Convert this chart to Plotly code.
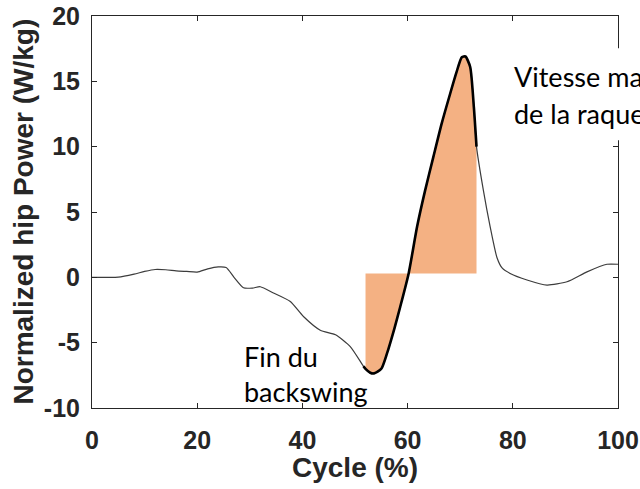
import plotly.graph_objects as go

# ---- data ----
cycle_pct = [0, 3, 5, 8, 10, 12, 14, 16, 18, 20, 22, 24, 25.5, 27, 28.8, 30.5, 32,
             34.5, 37.7, 40.2, 43.4, 46.3, 49.1, 51.6, 52.0, 52.9, 53.6, 55, 56.1,
             57.5, 58.6, 60.2, 61.8, 63.3, 64.9, 66.5, 68.1, 69.3, 70.3, 71.0, 71.9,
             72.6, 73.1, 74.4, 75.7, 77.0, 78.0, 79.5, 82.7, 86.5, 90.3, 94.1, 97.9, 100]
hip_power = [0.0, 0.0, 0.02, 0.25, 0.45, 0.6, 0.58, 0.5, 0.45, 0.4, 0.65, 0.8, 0.75,
             0.0, -0.8, -0.82, -0.72, -1.2, -1.85, -3.0, -4.05, -4.4, -5.3, -6.8, -7.0,
             -7.3, -7.35, -7.0, -5.8, -3.9, -2.25, 0.3, 3.87, 6.6, 9.22, 11.8, 14.07,
             15.7, 16.85, 16.9, 16.1, 13.0, 10.0, 6.67, 3.87, 1.5, 0.7, 0.3, -0.2,
             -0.59, -0.34, 0.42, 1.0, 1.0]

highlight_start = 51.6    # start of thick segment (%)
highlight_end = 73.1      # end of thick segment (%)
fill_start = 52.0
fill_end = 73.1
fill_baseline = 0.3

x_ticks = [0, 20, 40, 60, 80, 100]
y_ticks = [-10, -5, 0, 5, 10, 15, 20]

x_title = "Cycle (%)"
y_title = "Normalized hip Power (W/kg)"
label_backswing = ["Fin du", "backswing"]
label_vitesse = ["Vitesse maximale", "de la raquette"]

# ---- derived series ----
seg = [(x, y) for x, y in zip(cycle_pct, hip_power) if highlight_start <= x <= highlight_end]
fseg = [(x, y) for x, y in zip(cycle_pct, hip_power) if fill_start <= x <= fill_end]
fill_x = [fill_start] + [p[0] for p in fseg] + [fill_end, fill_start]
fill_y = [fill_baseline] + [p[1] for p in fseg] + [fill_baseline, fill_baseline]

fig = go.Figure()
fig.add_trace(go.Scatter(x=fill_x, y=fill_y, fill="toself", fillcolor="#F4B183",
                         mode="none", hoverinfo="skip", showlegend=False))
fig.add_trace(go.Scatter(x=cycle_pct, y=hip_power, mode="lines",
                         line=dict(color="#3c3c3c", width=1.2, shape="spline", smoothing=0.6),
                         showlegend=False))
fig.add_trace(go.Scatter(x=[p[0] for p in seg], y=[p[1] for p in seg], mode="lines",
                         line=dict(color="black", width=2.6, shape="spline", smoothing=0.6),
                         showlegend=False))

axis_font = dict(family="Arial, Liberation Sans, sans-serif", size=25, color="#262626")
title_font = dict(family="Arial, Liberation Sans, sans-serif", size=28, color="#262626")

fig.update_xaxes(range=[0, 100], tickvals=x_ticks, ticktext=[f"<b>{t}</b>" for t in x_ticks],
                 ticks="inside", ticklen=5, tickcolor="#262626", showline=True,
                 linecolor="#262626", linewidth=1, mirror="ticks", showgrid=False,
                 zeroline=False, tickfont=axis_font, ticklabelstandoff=10, automargin=False)
fig.update_yaxes(range=[-10, 20], tickvals=y_ticks, ticktext=[f"<b>{t}</b>" for t in y_ticks],
                 ticks="inside", ticklen=5, tickcolor="#262626", showline=True,
                 linecolor="#262626", linewidth=1, mirror="ticks", showgrid=False,
                 zeroline=False, tickfont=axis_font, ticklabelstandoff=6, automargin=False)

# axis titles
fig.add_annotation(x=0.5, y=-0.153, xref="paper", yref="paper", text=f"<b>{x_title}</b>",
                   showarrow=False, xanchor="center", yanchor="middle", font=title_font)
fig.add_annotation(x=-0.132, y=0.5, xref="paper", yref="paper", text=f"<b>{y_title}</b>",
                   showarrow=False, xanchor="center", yanchor="middle", textangle=-90,
                   font=title_font)

fig.add_shape(type="rect", xref="paper", yref="paper", x0=0.795, x1=1.2, y0=0.683, y1=0.918,
              fillcolor="white", line=dict(width=0), layer="above")

ann_font = dict(family="Lato, Open Sans, sans-serif", size=27, color="black")
for txt, yv in zip(label_backswing, [-6.05, -8.7]):
    fig.add_annotation(x=28.55, y=yv, xref="x", yref="y", text=txt, showarrow=False,
                       xanchor="left", yanchor="middle", font=ann_font)
for txt, yv in zip(label_vitesse, [15.35, 12.53]):
    fig.add_annotation(x=79.9, y=yv, xref="x", yref="y", text=txt, showarrow=False,
                       xanchor="left", yanchor="middle", font=ann_font)

fig.update_layout(width=640, height=489, margin=dict(l=92, r=22, t=16, b=81, autoexpand=False),
                  paper_bgcolor="white", plot_bgcolor="white")

fig.write_html("out.html")
